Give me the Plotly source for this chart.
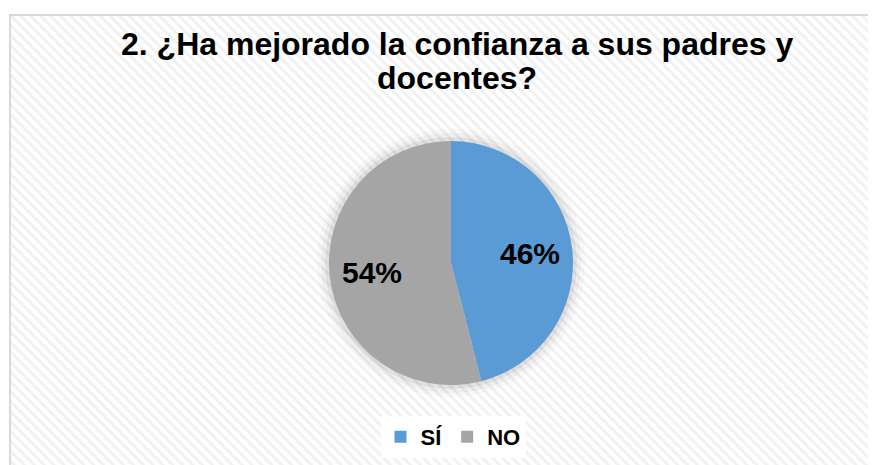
import math
import plotly.graph_objects as go

labels = ["SÍ", "NO"]
values = [46, 54]
colors = ["#5B9BD5", "#A5A5A5"]
title_lines = ["2. ¿Ha mejorado la confianza a sus padres y", "docentes?"]

# the page body adds an 8px margin, so the figure is drawn 8px in from the window corner
OFF = 8
W, H = 876 - OFF, 465 - OFF
font_family = "Liberation Sans, Arial, sans-serif"

# pie centre / radius in window pixels, converted to figure pixels
cx, cy, r = 451 - OFF, 263 - OFF, 122


def px(x):
    return x / W


def py(y):
    return 1 - y / H


def dom(rad):
    return dict(x=[px(cx - rad), px(cx + rad)], y=[py(cy + rad), py(cy - rad)])


fig = go.Figure()

# hatched chart background inside the frame
fig.add_trace(go.Scatter(
    x=[0, 1, 1, 0, 0], y=[0, 0, 1, 1, 0],
    mode="lines", line=dict(width=0), fill="toself",
    fillcolor="white",
    fillpattern=dict(shape="\\", fgcolor="#e2e2e2", bgcolor="white",
                     size=7, solidity=0.4),
    hoverinfo="skip", showlegend=False,
))

# soft shadow behind the pie
for extra, alpha in [(12, 0.025), (8, 0.035), (4, 0.06)]:
    fig.add_trace(go.Pie(
        values=[1], labels=["shadow"], marker=dict(colors=[f"rgba(0,0,0,{alpha})"]),
        domain=dom(r + extra), textinfo="none", hoverinfo="skip",
        showlegend=False, sort=False,
    ))

fig.add_trace(go.Pie(
    labels=labels, values=values,
    marker=dict(colors=colors, line=dict(width=0)),
    domain=dom(r), sort=False, direction="clockwise", rotation=0,
    textinfo="none", hoverinfo="label+percent",
))

# percentage labels placed at ~0.65 of the radius along each slice's mid angle
annotations = []
total = sum(values)
cum = 0
for v in values:
    mid = (cum + v / 2) / total * 2 * math.pi
    cum += v
    rr = 0.65 * r
    annotations.append(dict(
        x=px(cx + rr * math.sin(mid)), y=py(cy - rr * math.cos(mid)),
        xref="paper", yref="paper", showarrow=False,
        text=f"{round(v / total * 100)}%",
        font=dict(family=font_family, size=30, color="black", weight="bold"),
        xanchor="center", yanchor="middle",
    ))

# title, two lines set tighter than plotly's default line height
title_y = [44 - OFF, 78 - OFF]
for line, ty in zip(title_lines, title_y):
    annotations.append(dict(
        x=px(457 - OFF), y=py(ty), xref="paper", yref="paper", showarrow=False,
        text=line, xanchor="center", yanchor="middle",
        font=dict(family=font_family, size=32, color="black", weight="bold"),
    ))

fig.update_layout(
    width=W, height=H,
    margin=dict(l=0, r=0, t=0, b=0),
    paper_bgcolor="white", plot_bgcolor="white",
    font=dict(family=font_family, color="black"),
    xaxis=dict(domain=[px(10 - OFF), 1], range=[0, 1], visible=False, fixedrange=True),
    yaxis=dict(domain=[0, py(15 - OFF)], range=[0, 1], visible=False, fixedrange=True),
    annotations=annotations,
    legend=dict(orientation="h", x=px(453 - OFF), xanchor="center", y=py(437 - OFF),
                yanchor="middle", bgcolor="white",
                font=dict(family=font_family, size=22, weight="bold"),
                itemwidth=30, traceorder="normal"),
    shapes=[dict(type="rect", xref="paper", yref="paper",
                 x0=px(10 - OFF), x1=1.01, y0=-0.01, y1=py(15 - OFF),
                 line=dict(color="#d9d9d9", width=2), layer="above")],
)

fig.write_html("out.html")
